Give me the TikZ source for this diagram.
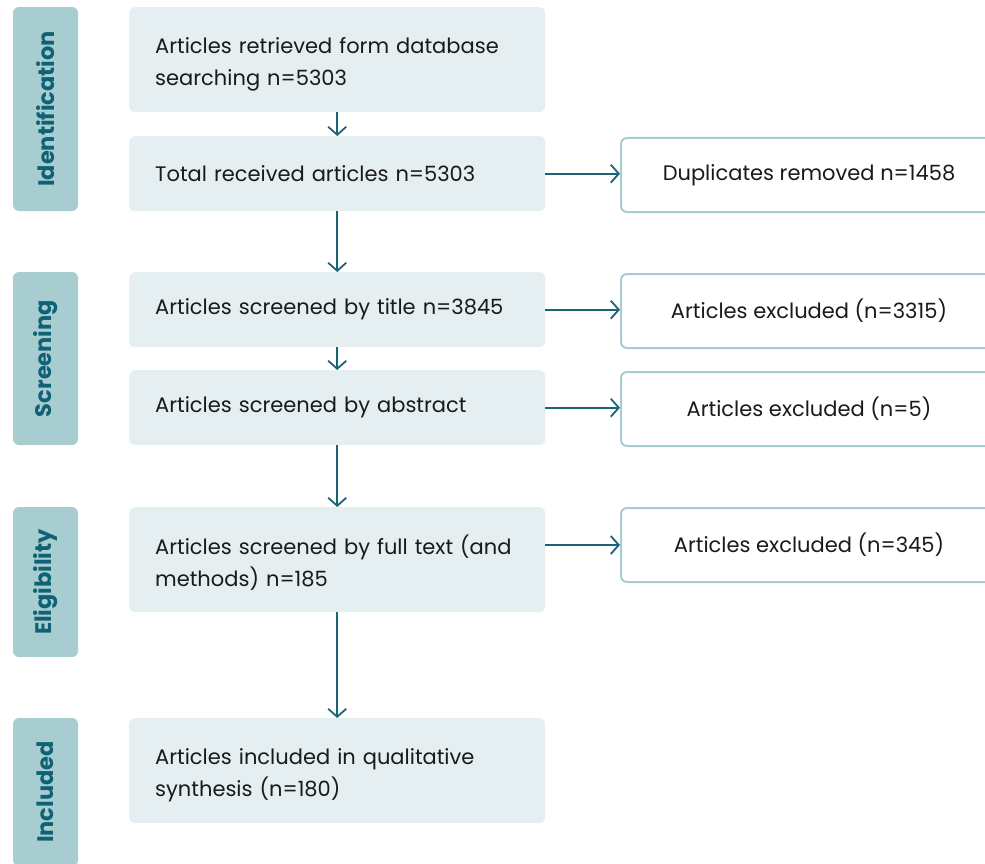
\documentclass[tikz,border=0pt]{standalone}
\usepackage{fontspec}
\setmainfont{Poppins}
\usetikzlibrary{arrows.meta}
\hyphenpenalty=10000
\exhyphenpenalty=10000
\definecolor{phasefill}{HTML}{A8CDD1}
\definecolor{phasetext}{HTML}{0F6275}
\definecolor{boxfill}{HTML}{E5EEF0}
\definecolor{arrowcol}{HTML}{1A6478}
\definecolor{txt}{HTML}{1A1A1A}
\tikzset{
  x=1pt, y=-1pt,
  phase/.style={fill=phasefill, rounded corners=6pt, rotate=90, inner sep=0pt,
    text=phasetext, font=\fontsize{22.5}{26}\selectfont\bfseries},
  mainbox/.style={fill=boxfill, rounded corners=6pt, anchor=north west,
    minimum width=416pt, text width=364pt, inner xsep=26pt, inner ysep=0pt,
    align=left, text=txt, font=\fontsize{21}{32}\selectfont},
  onerow/.style={mainbox, minimum height=75pt},
  tworow/.style={mainbox, minimum height=105pt,
    execute at begin node={\rule{0pt}{25pt}}},
  sidebox/.style={draw=phasefill, line width=2pt, fill=white, rounded corners=6pt,
    anchor=north west, minimum width=376pt, minimum height=74pt, inner sep=0pt,
    align=center, text=txt, font=\fontsize{21}{32}\selectfont},
  flow/.style={draw=arrowcol, line width=1.8pt,
    -{Straight Barb[length=8pt,width=18pt,line width=1.8pt]}},
}
\begin{document}
\begin{tikzpicture}
\useasboundingbox (0,0) rectangle (985,864);
\clip (0,0) rectangle (985,864);

% phase labels on the left
\node[phase, minimum width=204pt, minimum height=65pt] (pid) at (45.5,109) {Identification};
\node[phase, minimum width=173pt, minimum height=65pt] (psc) at (45.5,358.5) {Screening};
\node[phase, minimum width=150pt, minimum height=65pt] (pel) at (45.5,582) {Eligibility};
\node[phase, minimum width=148pt, minimum height=65pt] (pin) at (45.5,792) {Included};

% main flow boxes
\node[tworow] (b1) at (129,7) {Articles retrieved form database searching n=5303};
\node[onerow] (b2) at (129,136) {Total received articles n=5303};
\node[onerow] (b3) at (129,272) {Articles screened by title n=3845};
\node[onerow] (b4) at (129,370) {Articles screened by abstract};
\node[tworow] (b5) at (129,507) {Articles screened by full text (and methods) n=185};
\node[tworow] (b6) at (129,718) {Articles included in qualitative synthesis (n=180)};

% side boxes for removed / excluded records
\node[sidebox] (s2) at (620,137) {Duplicates removed n=1458};
\node[sidebox] (s3) at (620,273) {Articles excluded (n=3315)};
\node[sidebox] (s4) at (620,371) {Articles excluded (n=5)};
\node[sidebox] (s5) at (620,507) {Articles excluded (n=345)};

% vertical flow
\draw[flow] (b1) -- (b2);
\draw[flow] (b2) -- (b3);
\draw[flow] (b3) -- (b4);
\draw[flow] (b4) -- (b5);
\draw[flow] (b5) -- (b6);

% horizontal branches
\draw[flow] (b2.east) -- (b2.east -| s2.west);
\draw[flow] (b3.east) -- (b3.east -| s3.west);
\draw[flow] (b4.east) -- (b4.east -| s4.west);
\draw[flow] (s5.west -| b5.east) -- (s5.west);
\end{tikzpicture}
\end{document}
